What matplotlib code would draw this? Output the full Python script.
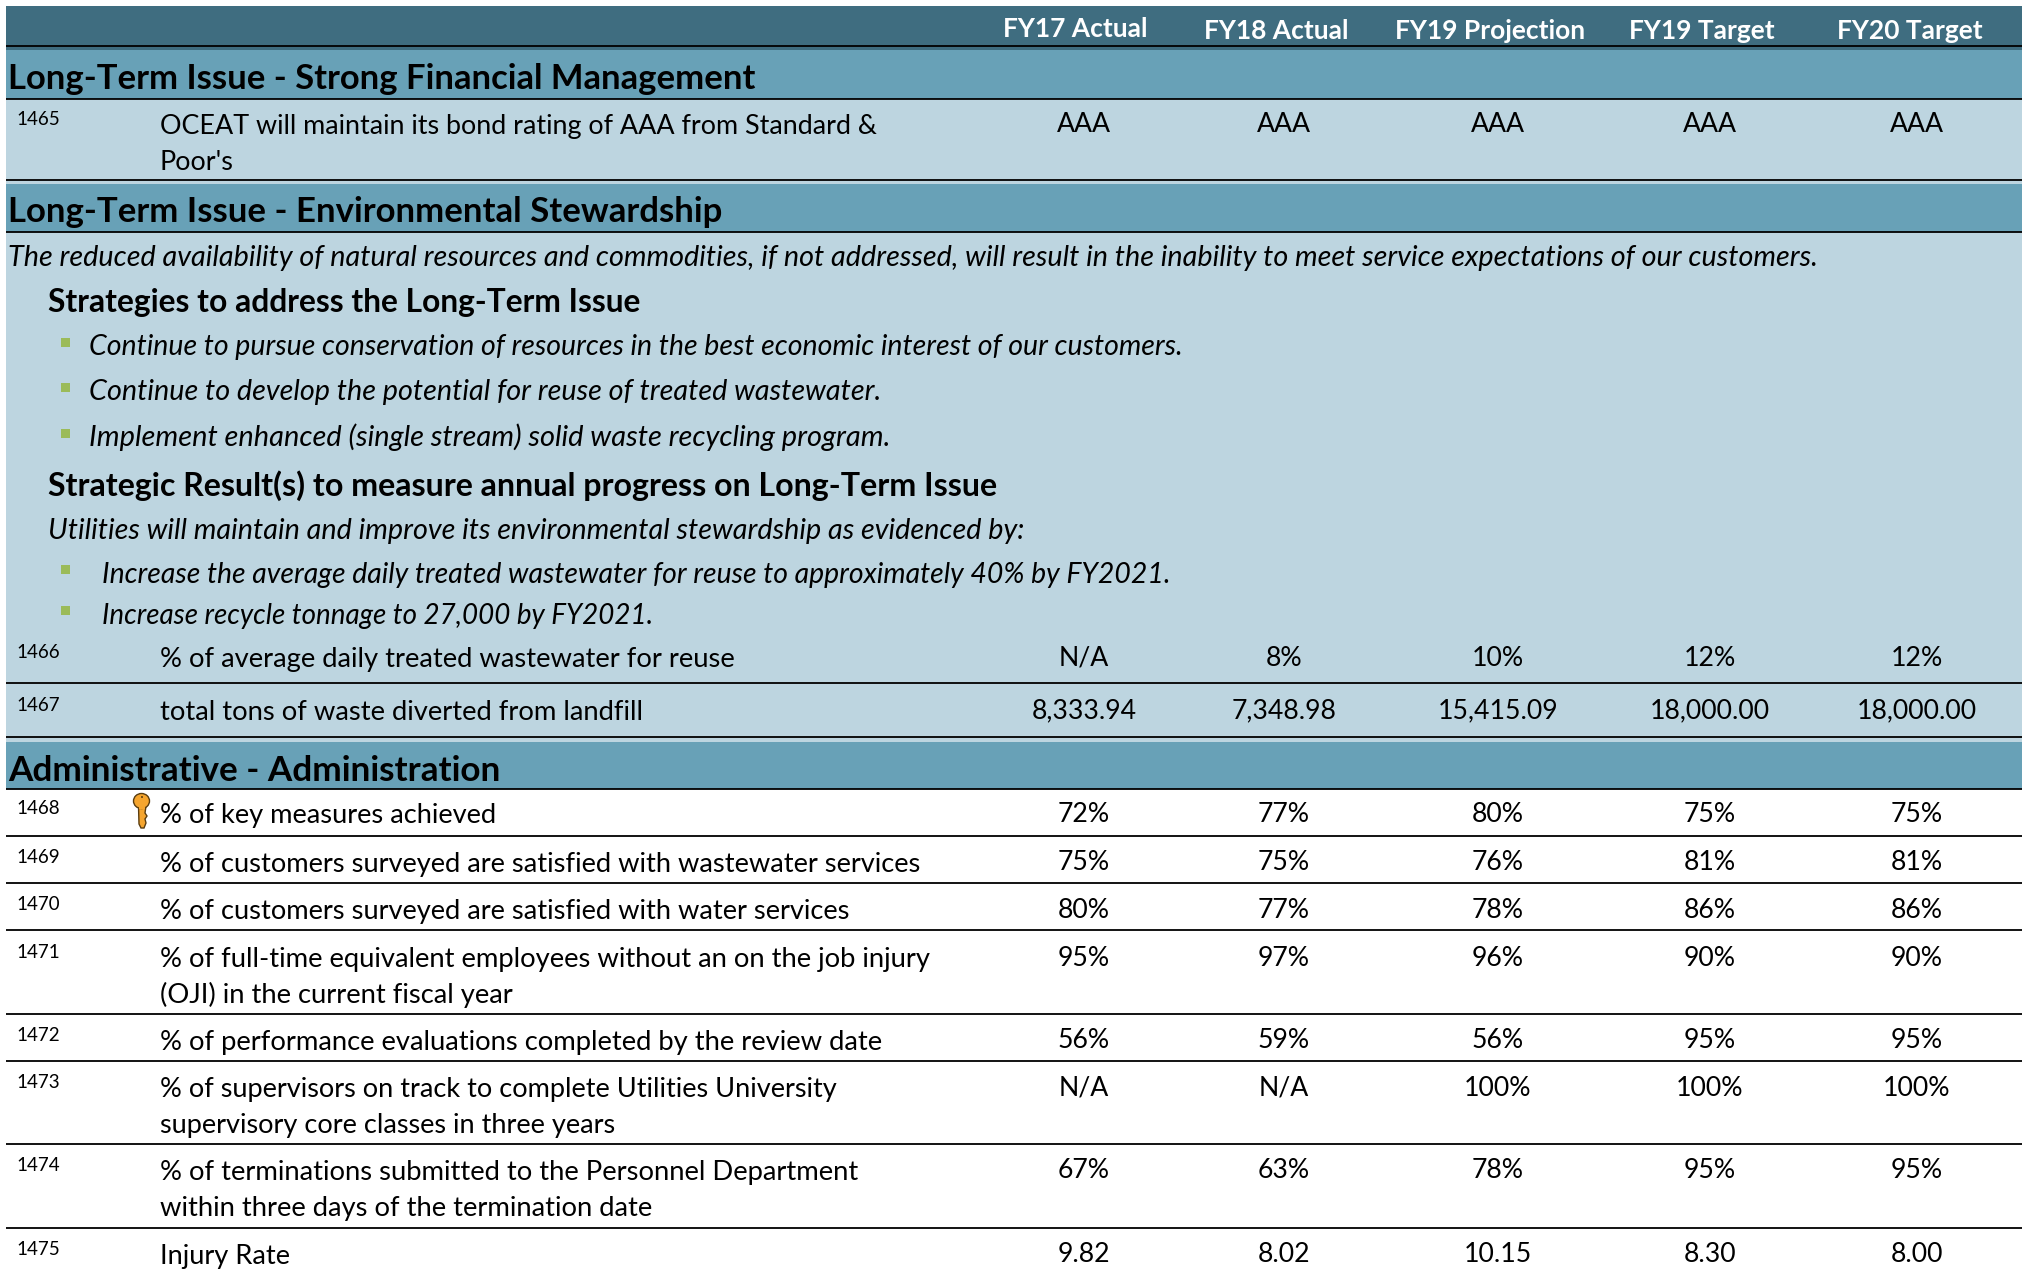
import matplotlib
matplotlib.use('Agg')
import matplotlib.pyplot as plt
from matplotlib.patches import Rectangle, Ellipse, Circle, Polygon

# Table contents
columns = ['FY17 Actual', 'FY18 Actual', 'FY19 Projection', 'FY19 Target', 'FY20 Target']
sections = ['Long-Term Issue - Strong Financial Management',
            'Long-Term Issue - Environmental Stewardship',
            'Administrative - Administration']
ids = ['1465', '1466', '1467', '1468', '1469', '1470', '1471', '1472', '1473', '1474', '1475']
labels = ["OCEAT will maintain its bond rating of AAA from Standard &\nPoor's",
          '% of average daily treated wastewater for reuse',
          'total tons of waste diverted from landfill',
          '% of key measures achieved',
          '% of customers surveyed are satisfied with wastewater services',
          '% of customers surveyed are satisfied with water services',
          '% of full-time equivalent employees without an on the job injury\n(OJI) in the current fiscal year',
          '% of performance evaluations completed by the review date',
          '% of supervisors on track to complete Utilities University\nsupervisory core classes in three years',
          '% of terminations submitted to the Personnel Department\nwithin three days of the termination date',
          'Injury Rate']
fy17 = ['AAA', 'N/A', '8,333.94', '72%', '75%', '80%', '95%', '56%', 'N/A', '67%', '9.82']
fy18 = ['AAA', '8%', '7,348.98', '77%', '75%', '77%', '97%', '59%', 'N/A', '63%', '8.02']
fy19p = ['AAA', '10%', '15,415.09', '80%', '76%', '78%', '96%', '56%', '100%', '78%', '10.15']
fy19t = ['AAA', '12%', '18,000.00', '75%', '81%', '86%', '90%', '95%', '100%', '95%', '8.30']
fy20t = ['AAA', '12%', '18,000.00', '75%', '81%', '86%', '90%', '95%', '100%', '95%', '8.00']

intro = ('The reduced availability of natural resources and commodities, if not addressed, '
         'will result in the inability to meet service expectations of our customers.')
strategy_head = 'Strategies to address the Long-Term Issue'
strategies = ['Continue to pursue conservation of resources in the best economic interest of our customers.',
              'Continue to develop the potential for reuse of treated wastewater.',
              'Implement enhanced (single stream) solid waste recycling program.']
result_head = 'Strategic Result(s) to measure annual progress on Long-Term Issue'
result_intro = 'Utilities will maintain and improve its environmental stewardship as evidenced by:'
results = ['Increase the average daily treated wastewater for reuse to approximately 40% by FY2021.',
           'Increase recycle tonnage to 27,000 by FY2021.']

HEADER = '#3f6d80'
BAND = '#68a1b7'
LIGHT = '#bdd5e0'
BULLET = '#9bbb59'
FONT = 'Lato'

plt.rcParams['font.family'] = FONT
fig = plt.figure(figsize=(20.22, 12.69), dpi=100)
ax = fig.add_axes([0, 0, 1, 1])
ax.set_xlim(0, 2022)
ax.set_ylim(1269, 0)
ax.axis('off')


def box(y0, y1, color):
    ax.add_patch(Rectangle((6, y0), 2016, y1 - y0, color=color, lw=0))


def rule(y, lw=1.3):
    ax.plot([6, 2022], [y, y], color='black', lw=lw, solid_capstyle='butt')


box(6, 50, HEADER)
box(50, 99, BAND)
box(100, 184, LIGHT)
box(184, 232, BAND)
box(232, 742, LIGHT)
box(742, 789, BAND)

for y in [46, 99, 180, 232, 683, 737, 789, 836, 883, 930, 1014, 1061, 1144, 1228]:
    rule(y)

# header row
col_x = [1075, 1276, 1490, 1702, 1910]
head_y = [37, 39, 39, 39, 39]
for c, x, y in zip(columns, col_x, head_y):
    ax.text(x, y, c, color='white', fontsize=19, fontweight='bold', ha='center', va='baseline')

section_sizes = [24.9, 25, 25.3]
for s, y, fs in zip(sections, [89, 222, 781], section_sizes):
    ax.text(8, y, s, color='black', fontsize=fs, fontweight='bold', va='baseline')

# environmental stewardship narrative
ax.text(8, 266, intro, fontsize=20.7, style='italic', va='baseline')
ax.text(48, 312, strategy_head, fontsize=22.9, fontweight='bold', va='baseline')
for s, y, fs in zip(strategies, [355, 400, 446], [20.55, 20.7, 20.85]):
    ax.text(89, y, s, fontsize=fs, style='italic', va='baseline')
    ax.add_patch(Rectangle((61, y - 17), 9, 9, color=BULLET, lw=0))
ax.text(48, 496, result_head, fontsize=23.15, fontweight='bold', va='baseline')
ax.text(48, 539, result_intro, fontsize=20.7, style='italic', va='baseline')
for s, y, fs in zip(results, [583, 624], [20.48, 20.0]):
    ax.text(102, y, s, fontsize=fs, style='italic', va='baseline')
    ax.add_patch(Rectangle((61, y - 18), 9, 9, color=BULLET, lw=0))

# measure rows
row_y = [134, 667, 720, 823, 872, 919, 967, 1050, 1097, 1180, 1264]
label_sizes = [19.32, 19.7, 19.7, 19.6, 19.6, 19.6, 19.73, 19.75, 19.5, 19.7, 19.6]
value_cols = [fy17, fy18, fy19p, fy19t, fy20t]
value_x = [1084, 1284, 1498, 1710, 1917]
for i, y in enumerate(row_y):
    ax.text(16, y - 9, ids[i], fontsize=13.5, va='baseline')
    for line_no, part in enumerate(labels[i].split('\n')):
        ax.text(160, y + line_no * 36, part, fontsize=label_sizes[i], va='baseline')
    for vals, x in zip(value_cols, value_x):
        ax.text(x, y - 1.5, vals[i], fontsize=19.2, ha='center', va='baseline')

# key icon beside the key measure
key_edge = '#5a3d10'
key_fill = '#f5a52e'
ax.add_patch(Polygon([(138.5, 806), (146, 806), (145, 813), (147, 816), (145, 819), (146, 823),
                      (144, 828), (141, 828), (139, 824)],
                     closed=True, fc=key_fill, ec=key_edge, lw=1))
ax.add_patch(Ellipse((141.5, 801), 16, 15, fc=key_fill, ec=key_edge, lw=1))
ax.add_patch(Rectangle((138.6, 804), 6.8, 5, fc=key_fill, lw=0))
ax.add_patch(Circle((142, 797), 1, fc=key_edge, ec=key_edge, lw=0))

fig.savefig('out.png', dpi=100, facecolor='white')
